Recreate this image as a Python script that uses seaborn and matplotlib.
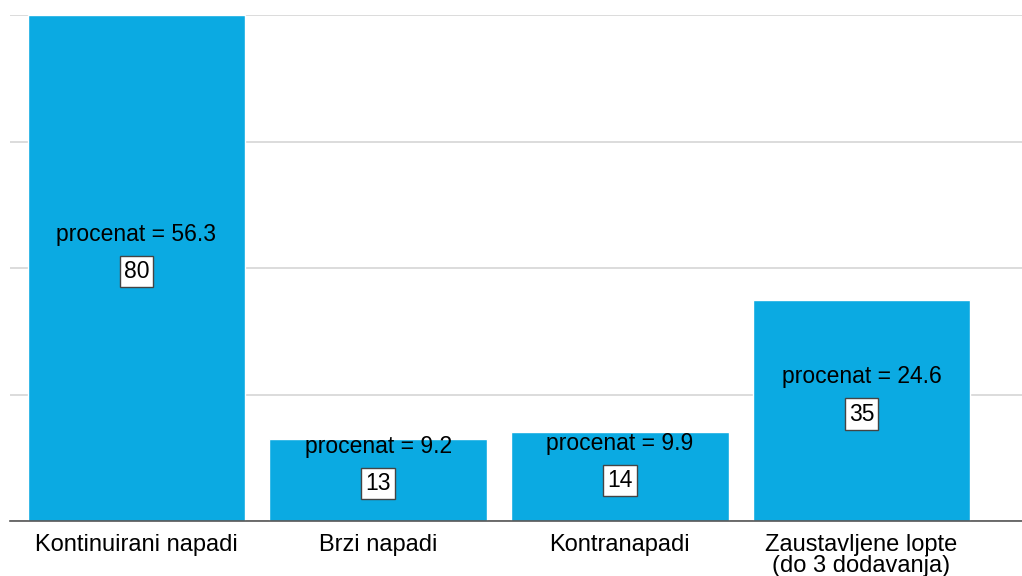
import matplotlib
matplotlib.use("Agg")
import matplotlib.pyplot as plt
import seaborn as sns
import pandas as pd

# data
categories = ["Kontinuirani napadi", "Brzi napadi", "Kontranapadi",
              "Zaustavljene lopte\n(do 3 dodavanja)"]
counts = [80, 13, 14, 35]
percents = [56.3, 9.2, 9.9, 24.6]

bar_color = "#0BAAE2"

sns.set_theme(style="white")
plt.rcParams['font.family'] = ['Liberation Sans', 'DejaVu Sans']

df = pd.DataFrame({"kategorija": categories, "broj": counts, "procenat": percents})

fig = plt.figure(figsize=(10.22, 5.76), dpi=100)
ax = fig.add_axes([10 / 1022, 55 / 576, 1012 / 1022, 506 / 576])

sns.barplot(data=df, x="kategorija", y="broj", color=bar_color, width=0.9,
            saturation=1, ax=ax, zorder=3)

ax.set_xlim(-0.523, 3.664)
ax.set_ylim(0, 80)
ax.set_yticks([0, 20, 40, 60, 80])
ax.set_yticklabels([])
ax.yaxis.grid(True, color="#D9D9D9", linewidth=1.3, zorder=0)
ax.set_axisbelow(True)
for side in ["left", "right", "top"]:
    ax.spines[side].set_visible(False)
ax.spines["bottom"].set_color("#555555")
ax.spines["bottom"].set_linewidth(1.2)
ax.spines["bottom"].set_zorder(4)
ax.set_xlabel("")
ax.set_ylabel("")
ax.tick_params(axis="x", length=0, pad=9, labelsize=17, labelcolor="black")
ax.tick_params(axis="y", length=0)
for lbl in ax.get_xticklabels():
    lbl.set_linespacing(0.95)
    lbl.set_verticalalignment("top")

# count in a white box near the bar middle, percentage just above it
for i, (n, p) in enumerate(zip(counts, percents)):
    ybox = n / 2 - 0.6
    ax.text(i, ybox, str(n), ha="center", va="center", fontsize=16.5,
            color="black", zorder=5,
            bbox=dict(boxstyle="square,pad=0.18", facecolor="white",
                      edgecolor="#444444", linewidth=1))
    ax.annotate(f"procenat = {p}", xy=(i, ybox), xytext=(0, 27),
                textcoords="offset points", ha="center", va="center",
                fontsize=16.5, color="black", zorder=5)

fig.savefig("out.png", dpi=100)
